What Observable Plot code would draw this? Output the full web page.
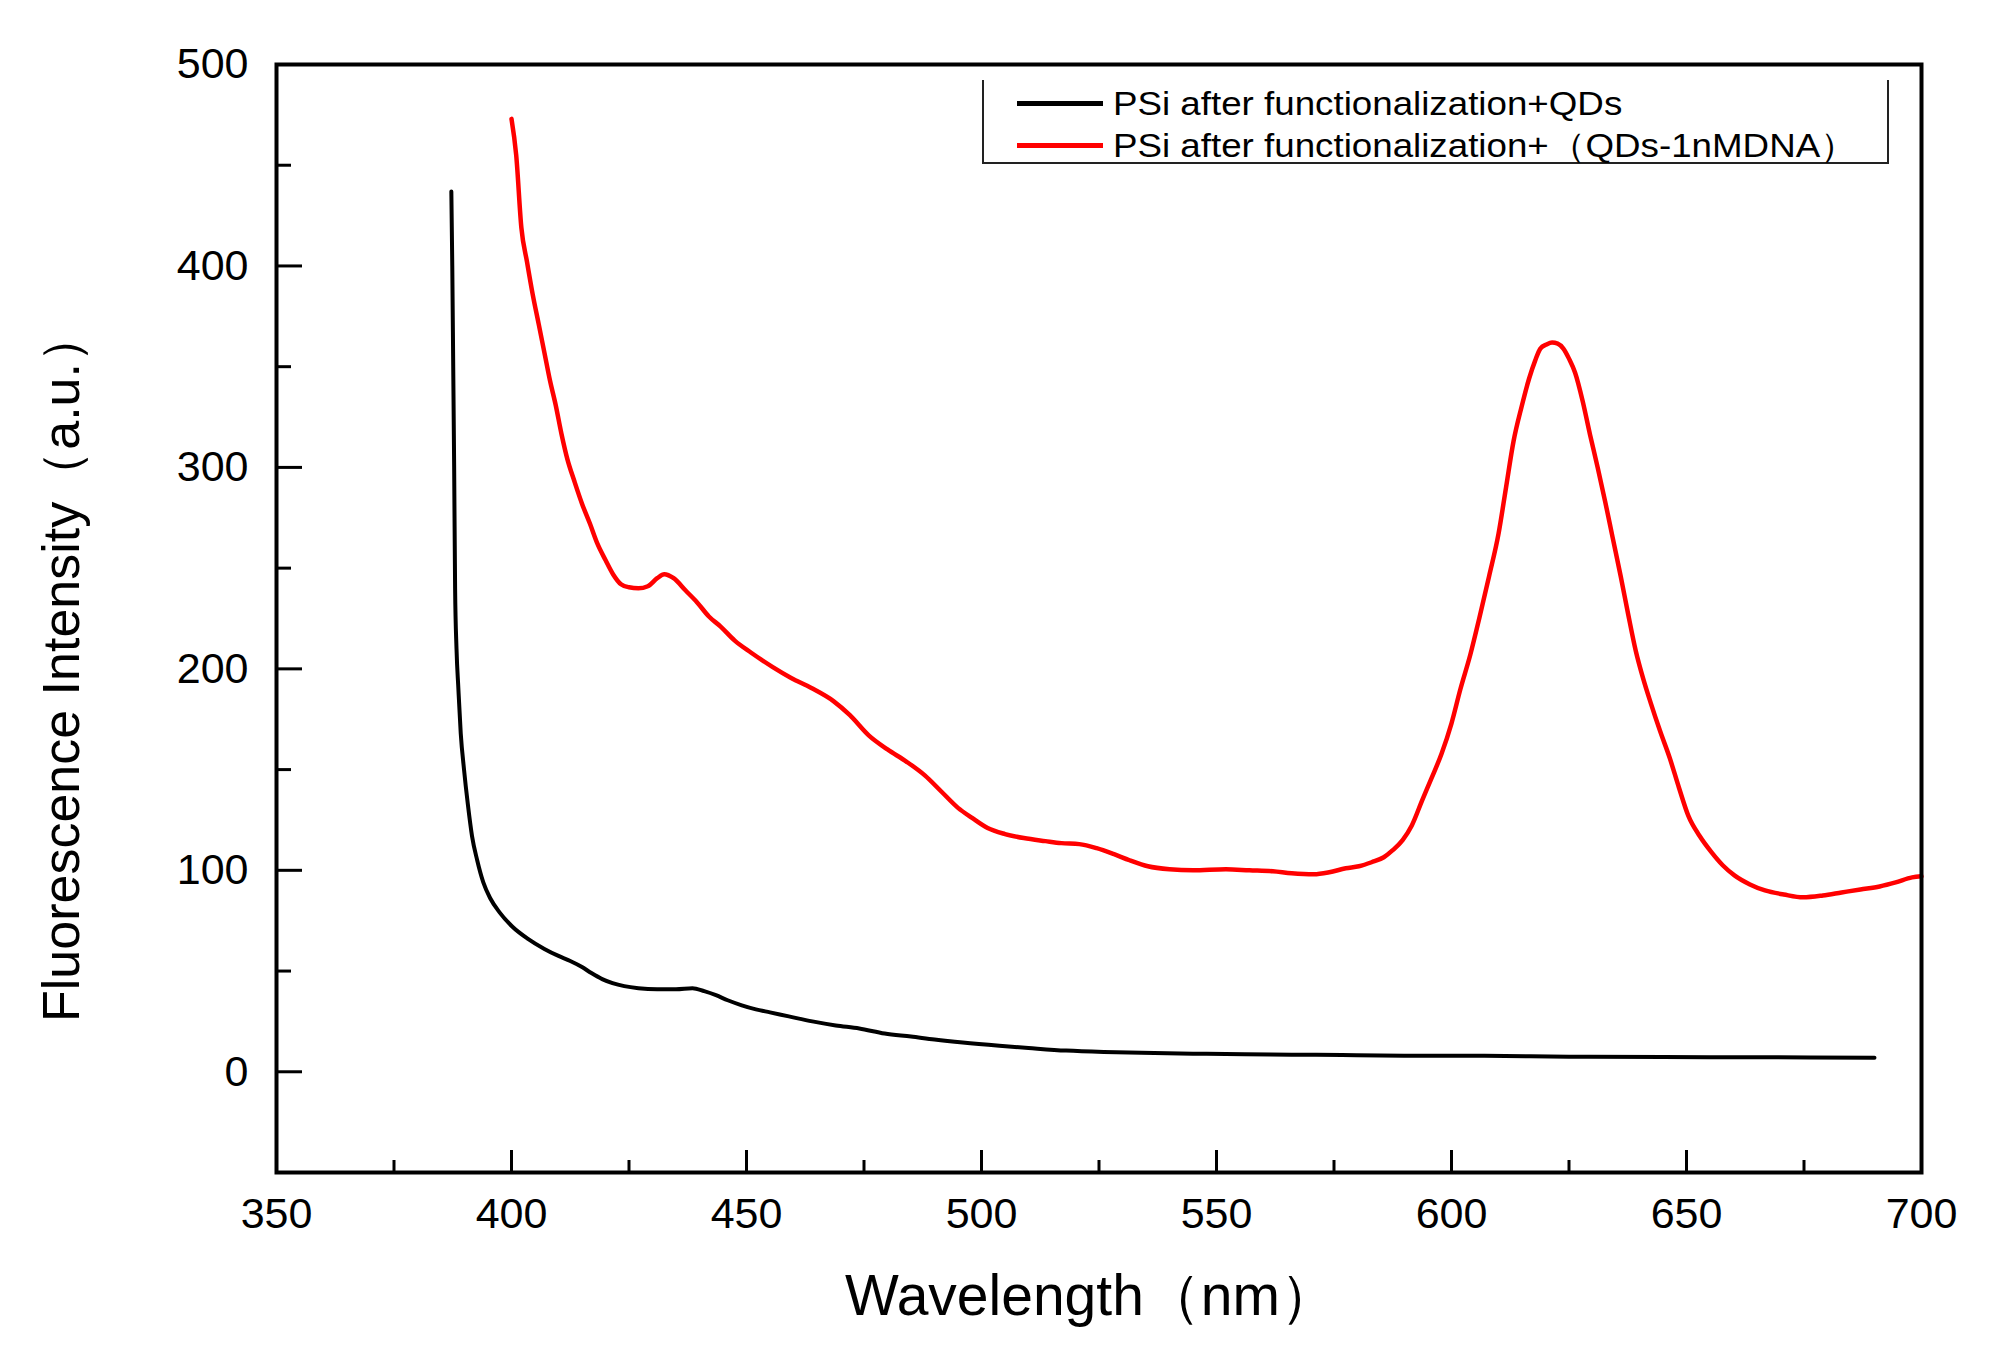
<!DOCTYPE html>
<html>
<head>
<meta charset="utf-8">
<script src="https://cdn.jsdelivr.net/npm/d3@7"></script>
<script src="https://cdn.jsdelivr.net/npm/@observablehq/plot@0.6"></script>
<style>
  body { margin: 0; background: #fff; }
  #wrap { position: relative; width: 1990px; height: 1351px; background: #fff; }
  .legend { position: absolute; left: 982px; top: 80px; width: 907px; height: 84px;
    border: 2px solid #222; border-top: none; box-sizing: border-box;
    font-family: "Liberation Sans", Arial, sans-serif; font-size: 34px; color: #000; }
  .row { position: absolute; left: 0; height: 40px; width: 100%; }
  .sw { position: absolute; left: 33px; width: 86px; height: 5px; top: 18px; }
  .lt { position: absolute; left: 129px; top: 0; line-height: 40px; white-space: nowrap;
    transform: scaleX(1.08); transform-origin: left center; }
</style>
</head>
<body>
<div id="wrap"></div>
<script>
// ---- data ----
const seriesNames = ["PSi after functionalization+QDs", "PSi after functionalization+（QDs-1nMDNA）"];
const seriesColors = ["#000000", "#ff0000"];

const blackWavelength = [387.2,387.4,387.6,387.8,388,388.3,388.7,389.2,389.9,390.7,391.6,392.7,394,395.5,397.5,400.2,403.5,407,410,412.5,415,417,419.3,421.5,424,427,431,435,438.5,441,443.5,446,449,452,455,459,464,469,474,479.4,485,490,496,503.8,510,518,526,534,545,556,566,576.7,590,607,625,645,665,690];
const blackIntensity = [437,400,350,300,240,210,190,168,150,133,117,105,94,86,79,72,66,61,57.5,55,52,49,46,44,42.5,41.5,41,41,41.5,40,38,35.5,33,31,29.5,27.5,25,23,21.5,19,17.5,16,14.5,12.9,11.8,10.5,9.8,9.4,9,8.7,8.5,8.3,8,7.9,7.5,7.3,7.2,7];

const redWavelength = [400,401,402.1,403.3,404.5,405.8,407,408.2,409.4,410.6,411.9,413.4,415,416.7,418.3,420,421.6,423.3,425,427,429,431,432.5,434.5,437,439.5,442,444.5,447.5,451,455.5,459.5,463.8,468.5,472,476,480,484,488,491.5,495,498,501.3,505,509,513.6,517,520.8,524.5,528.2,531.5,535.4,540,545,552,557,562,566,570.7,574,577.5,580.3,583,585.6,587.5,589.6,591.5,593.8,595.8,597.9,600,601.9,604,605.9,608,610,611.6,613.2,614.9,616.5,617.8,618.9,620.2,621.4,622.6,623.8,625,626.3,627.9,629.5,631.1,632.7,634.3,636,637.6,639.2,640.8,642.4,644.4,646.4,648.4,650.4,652.8,655.3,657.7,660.2,663.5,666.7,670.7,674.8,679,683,687,691.1,694.5,698,700];
const redIntensity = [473,455,419,402,386,371,357,343,331,317,304,293,282,272,262,254,247,242,240.5,240,241,245,247,245,239,233,226,221,214,208,201,195.5,190.5,184,177,167,160,154,147,139,131,126,121,118,116,114.5,113.5,113,111,108,105,102,100.5,100,100.5,100,99.5,98.5,98,99,101,102,104,106.5,110,115,122,135,146,158,173,190,207,225,246,267,290,313,330,344,353,359,361,362,361.5,359,354,347,333,316,300,283,265,246,227,209,195,183,169,156,141,127,117,109,102.5,97.5,93,90,88,86.6,87.5,89,90.5,92,94,96.5,97];

const xMajorTicks = [350,400,450,500,550,600,650,700];
const xMinorTicks = [375,425,475,525,575,625,675];
const yMajorTicks = [0,100,200,300,400,500];
const yMinorTicks = [50,150,250,350,450];
const xLabel = "Wavelength（nm）";
const yLabel = "Fluorescence Intensity（a.u.）";

// ---- build tables ----
const blackData = blackWavelength.map((w, i) => ({w, v: blackIntensity[i]}));
const redData = redWavelength.map((w, i) => ({w, v: redIntensity[i]}));

const font = "'Liberation Sans', Arial, sans-serif";

const chart = Plot.plot({
  width: 1990,
  height: 1351,
  marginLeft: 276,
  marginRight: 69,
  marginTop: 64,
  marginBottom: 179,
  x: {domain: [350, 700]},
  y: {domain: [-50, 500]},
  style: {fontFamily: font, fontSize: "43px", color: "#000", background: "#fff", overflow: "visible"},
  marks: [
    Plot.line(redData, {x: "w", y: "v", stroke: seriesColors[1], strokeWidth: 4.5, curve: "monotone-x"}),
    Plot.line(blackData, {x: "w", y: "v", stroke: seriesColors[0], strokeWidth: 4, curve: "monotone-x"}),
    // ticks (inward)
    Plot.axisX(xMajorTicks, {tickSize: -22, strokeWidth: 3, text: null, label: null}),
    Plot.axisX(xMinorTicks, {tickSize: -12, strokeWidth: 3, text: null, label: null}),
    Plot.axisY(yMajorTicks, {tickSize: -26, strokeWidth: 3, text: null, label: null}),
    Plot.axisY(yMinorTicks, {tickSize: -15, strokeWidth: 3, text: null, label: null}),
    // tick labels
    Plot.axisX(xMajorTicks, {tickSize: 0, tickPadding: 25, fontSize: 43, label: null}),
    Plot.axisY(yMajorTicks, {tickSize: 0, tickPadding: 28, fontSize: 43, label: null}),
    Plot.frame({stroke: "#000", strokeWidth: 4}),
    // axis titles
    Plot.text([xLabel], {frameAnchor: "bottom", textAnchor: "middle", dx: -8, dy: 124, lineAnchor: "middle", fontSize: 57, fill: "#000"}),
    Plot.text([yLabel], {frameAnchor: "left", textAnchor: "middle", dx: -214, dy: 48, rotate: -90, lineAnchor: "middle", fontSize: 52, fill: "#000"})
  ]
});

const wrap = document.getElementById("wrap");
wrap.appendChild(chart);

// legend
const legend = document.createElement("div");
legend.className = "legend";
const rowTops = [3, 45];
seriesNames.forEach((name, i) => {
  const row = document.createElement("div");
  row.className = "row";
  row.style.top = rowTops[i] + "px";
  const sw = document.createElement("div");
  sw.className = "sw";
  sw.style.background = seriesColors[i];
  const t = document.createElement("div");
  t.className = "lt";
  t.textContent = name;
  row.appendChild(sw);
  row.appendChild(t);
  legend.appendChild(row);
});
wrap.appendChild(legend);
</script>
</body>
</html>
